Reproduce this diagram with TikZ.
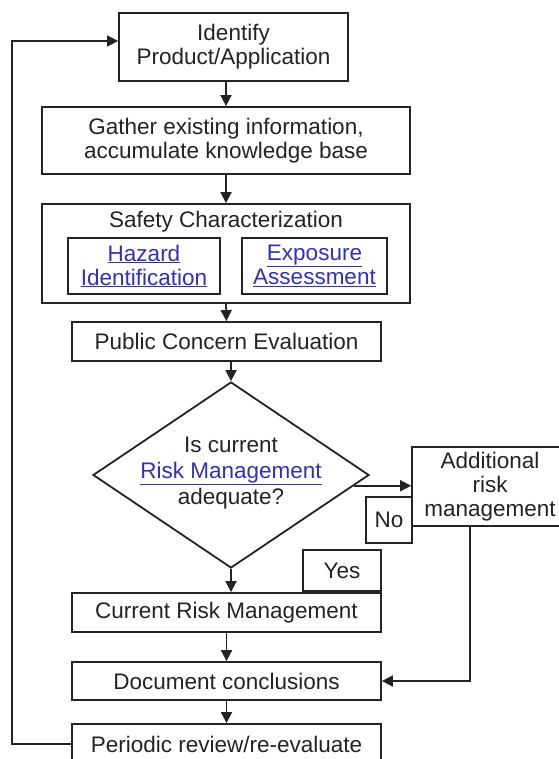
\documentclass[tikz,border=0pt]{standalone}
\usepackage{fontspec}
\setmainfont{Liberation Sans}
\usetikzlibrary{shapes.geometric,arrows.meta}
\definecolor{linkblue}{RGB}{48,48,185}
\definecolor{ink}{RGB}{35,35,35}
\newcommand{\lnk}[1]{\textcolor{linkblue}{\underline{#1}}}

\begin{document}
\begin{tikzpicture}[x=1pt,y=-1pt,
  every node/.style = {align=center, text=ink,
    font=\fontsize{22.5}{24}\selectfont},
  box/.style = {shape=rectangle, draw=ink, line width=1.8pt,
    inner sep=0pt},
  decision/.style = {shape=diamond, draw=ink, line width=1.8pt,
    inner sep=0pt, minimum width=276pt, minimum height=186pt},
  arr/.style = {draw=ink, line width=1.8pt,
    -{Triangle[length=11pt,width=11pt]}}]
  \useasboundingbox (0,0) rectangle (558,759);
  \node[box, minimum width=229pt, minimum height=68pt] (id) at (233.5,47)
    {Identify\\Product/Application};
  \node[box, minimum width=368pt, minimum height=67pt] (gat) at (226,140.5)
    {Gather existing information,\\accumulate knowledge base};
  \node[box, minimum width=368pt, minimum height=99pt] (saf) at (226,253.5) {};
  \node (saft) at (226,222) {Safety Characterization};
  \node[box, minimum width=152pt, minimum height=56pt] (haz) at (144,266)
    {\lnk{Hazard}\\\lnk{Identification}};
  \node[box, minimum width=145pt, minimum height=56pt] (expo) at (314.5,266)
    {\lnk{Exposure}\\\lnk{Assessment}};
  \node[box, minimum width=309pt, minimum height=39pt] (pub) at (226.5,341.5)
    {Public Concern Evaluation};
  \node[decision] (dec) at (231,475) {};
  \node[font=\fontsize{22.5}{26}\selectfont] (decq) at (231,473)
    {Is current\\\lnk{Risk Management}\\adequate?};
  \node[box, minimum width=156pt, minimum height=79pt] (add) at (490,486.5)
    {Additional\\risk\\management};
  \node[box, minimum width=46pt, minimum height=46pt] (no) at (389,520) {No};
  \node[box, minimum width=309pt, minimum height=39pt] (cur) at (226.5,612.5)
    {Current Risk Management};
  \node[box, minimum width=78pt, minimum height=41pt, anchor=south east]
    (yes) at (cur.north east) {Yes};
  \node[box, minimum width=309pt, minimum height=38pt] (doc) at (226.5,681)
    {Document conclusions};
  \node[box, minimum width=309pt, minimum height=40pt] (per) at (226.5,744)
    {Periodic review/re-evaluate};
  % main column
  \draw[arr] (id.south -| gat.north) -- (gat.north);
  \draw[arr] (gat.south) -- (saf.north);
  \draw[arr] (saf.south) -- (pub.north);
  \draw[arr] (pub.south -| dec.north) -- (dec.north);
  \draw[arr] (dec.south) -- (dec.south |- cur.north);
  \draw[arr] (cur.south) -- (doc.north);
  \draw[arr] (doc.south) -- (per.north);
  % side branch and loop back
  \draw[arr] (dec.-5.2) -- (dec.-5.2 -| add.west);
  \draw[arr] ([xshift=-20pt]add.south) |- (doc.east);
  \draw[arr] (per.west) -- ++(-59,0) |- ([yshift=6pt]id.west);
\end{tikzpicture}
\end{document}
